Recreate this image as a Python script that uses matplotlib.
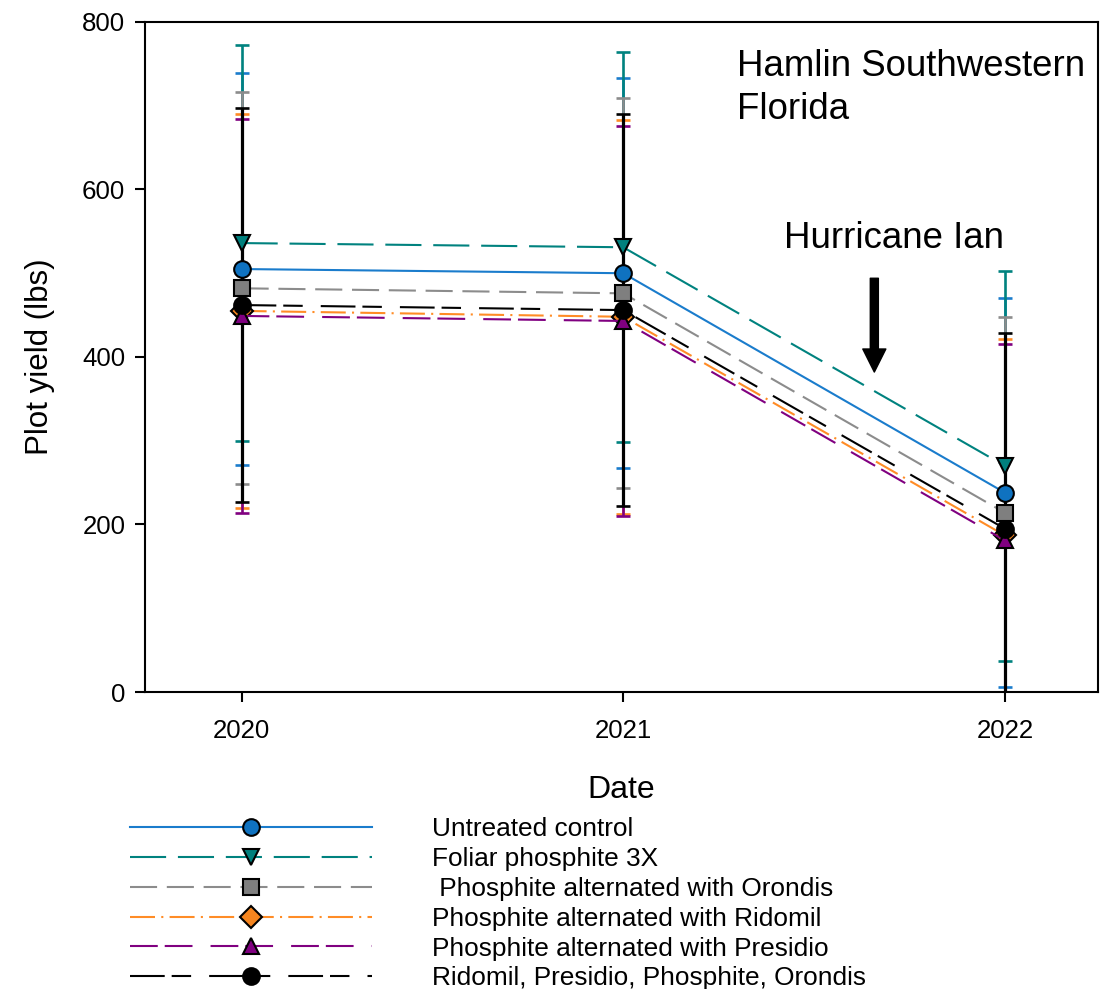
import matplotlib
matplotlib.use("Agg")
import matplotlib.pyplot as plt

plt.rcParams['font.family'] = ['Liberation Sans', 'DejaVu Sans']
# dash lengths below are given in points, not multiples of line width
plt.rcParams['lines.scale_dashes'] = False

# Yield per plot (lbs), mean and standard error for each season
years = [2020, 2021, 2022]

untreated = [505, 500, 238]
untreated_err = [234, 233, 232]

foliar = [536, 531, 270]
foliar_err = [236, 233, 233]

orondis = [482, 476, 214]
orondis_err = [234, 233, 234]

ridomil = [455, 448, 187]
ridomil_err = [235, 235, 234]

presidio = [449, 443, 181]
presidio_err = [235, 233, 235]

rotation = [462, 456, 195]
rotation_err = [235, 234, 234]

labels = [
    "Untreated control",
    "Foliar phosphite 3X",
    " Phosphite alternated with Orondis",
    "Phosphite alternated with Ridomil",
    "Phosphite alternated with Presidio",
    "Ridomil, Presidio, Phosphite, Orondis",
]

series = [
    # values, errors, line colour, marker fill, marker, dash pattern
    (untreated, untreated_err, "#1a7ccc", "#0f72c0", "o", "-"),
    (foliar, foliar_err, "#00827f", "#00807d", "v", (0, (26, 8.5))),
    (orondis, orondis_err, "#8c8c8c", "#7f7f7f", "s", (0, (19.5, 7))),
    (ridomil, ridomil_err, "#ff8c26", "#f5851f", "D", (0, (18, 4.5, 1.5, 4.5))),
    (presidio, presidio_err, "#800080", "#800080", "^", (0, (20, 5, 20, 13))),
    (rotation, rotation_err, "#000000", "#000000", "o", (0, (25, 5, 14, 13))),
]

fig = plt.figure(figsize=(11.14, 9.89), dpi=100)
ax = fig.add_axes([0.1302, 0.3003, 0.8554, 0.6775])

handles = []
for (vals, errs, col, fill, mk, ls), lab in zip(series, labels):
    # the black bars sit on top, a touch wider so the others don't bleed through
    ew = 2.3 if col == "#000000" else 1.9
    ax.errorbar(years, vals, yerr=errs, fmt='none', ecolor=col,
                elinewidth=ew, capsize=4.7, capthick=1.9, zorder=2)
    ms = 11 if mk in ("D", "s") else 12
    line, = ax.plot(years, vals, linestyle=ls, color=col, linewidth=1.5,
                    marker=mk, markersize=ms, markerfacecolor=fill,
                    markeredgecolor="black", markeredgewidth=1.5,
                    label=lab, zorder=3)
    handles.append(line)

ax.set_xlim(2019.747, 2022.244)
ax.set_ylim(0, 800)
ax.set_xticks(years)
ax.set_xticklabels([str(y) for y in years])
ax.set_yticks([0, 200, 400, 600, 800])

for sp in ax.spines.values():
    sp.set_linewidth(1.5)
ax.tick_params(axis='both', direction='out', width=1.5, labelsize=18.6)
ax.tick_params(axis='y', length=7.2, pad=7)
ax.tick_params(axis='x', length=7.2, pad=12)

ax.set_xlabel("Date", fontsize=23)
ax.set_ylabel("Plot yield (lbs)", fontsize=22.5)
ax.xaxis.set_label_coords(0.5, -0.124)
ax.yaxis.set_label_coords(-0.094, 0.5)

ax.text(2021.297, 768, "Hamlin Southwestern\nFlorida", fontsize=26.4,
        ha='left', va='top', linespacing=1.3)
ax.text(2021.421, 530, "Hurricane Ian", fontsize=26.4,
        ha='left', va='baseline')
ax.annotate("", xy=(2021.658, 382), xytext=(2021.658, 494),
            arrowprops=dict(facecolor='black', edgecolor='black',
                            width=5.8, headwidth=16.6, headlength=16.6))

fig.legend(handles=handles, labels=labels, loc='upper left',
           bbox_to_anchor=(0.1167, 0.1735), frameon=False,
           borderpad=0, borderaxespad=0, fontsize=18.9, numpoints=1,
           handlelength=9.22, handletextpad=2.29, labelspacing=0.22)

fig.savefig("out.png", dpi=100)
